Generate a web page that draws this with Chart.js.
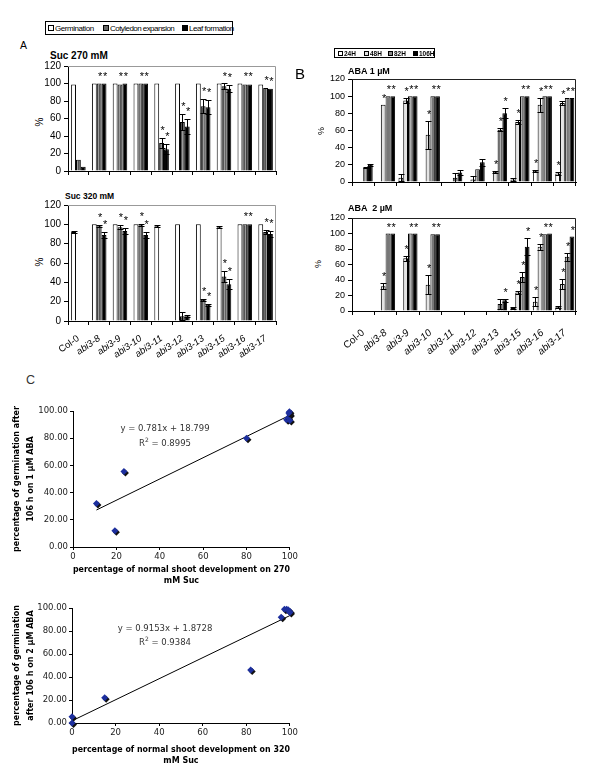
<!DOCTYPE html>
<html>
<head>
<meta charset="utf-8">
<script src="https://cdn.jsdelivr.net/npm/chart.js@4.4.1/dist/chart.umd.min.js"></script>
<style>
body { margin: 0; background: #fff; }
#page { position: relative; width: 600px; height: 778px; overflow: hidden; font-family: 'Liberation Sans', Arial, sans-serif; color: #000; }
#page canvas { position: absolute; }
.t { position: absolute; line-height: 1; white-space: pre; }
.rot { position: absolute; line-height: 1; white-space: nowrap; transform: translate(-50%, -50%) rotate(-90deg); }
.legend { position: absolute; border: 1px solid #000; box-sizing: border-box; }
.mk { position: absolute; border: 1px solid #000; box-sizing: border-box; }
.lt { position: absolute; line-height: 1; white-space: nowrap; }
.eq { position: absolute; line-height: 1; white-space: nowrap; font-family: 'DejaVu Sans', Verdana, sans-serif; font-size: 8.5px; color: #333; transform: translateX(-50%); }
</style>
</head>
<body>
<div id="page">
  <!-- panel A -->
  <div class="legend" style="left:45px;top:21px;width:188px;height:14px">
    <div class="mk" style="left:2px;top:3px;width:6px;height:6px;background:#fff"></div>
    <div class="lt" style="left:9px;top:3px;font-size:8px;letter-spacing:-0.45px">Germination</div>
    <div class="mk" style="left:57px;top:3px;width:6px;height:6px;background:#666"></div>
    <div class="lt" style="left:64px;top:3px;font-size:8px;letter-spacing:-0.55px">Cotyledon expansion</div>
    <div class="mk" style="left:136px;top:3px;width:6px;height:6px;background:#000"></div>
    <div class="lt" style="left:143px;top:3px;font-size:8px;letter-spacing:-0.45px">Leaf formation</div>
  </div>
  <div class="t" style="left:20px;top:40px;font-size:10.5px">A</div>
  <div class="t" style="left:50px;top:51px;font-size:10px;font-weight:bold">Suc 270 mM</div>
  <div class="rot" style="left:40px;top:122px;font-size:10px">%</div>
  <canvas id="a1" width="300" height="125" style="left:0;top:56px"></canvas>
  <div class="t" style="left:65px;top:192px;font-size:8.5px;font-weight:bold">Suc 320 mM</div>
  <div class="rot" style="left:40px;top:262px;font-size:10px">%</div>
  <canvas id="a2" width="300" height="165" style="left:0;top:195px"></canvas>

  <!-- panel B -->
  <div class="legend" style="left:334px;top:48px;width:101px;height:10px">
    <div class="mk" style="left:3px;top:2px;width:5px;height:5px;background:#fff"></div>
    <div class="lt" style="left:9px;top:1.5px;font-size:6.5px;font-weight:bold">24H</div>
    <div class="mk" style="left:29px;top:2px;width:5px;height:5px;background:#e4e4e4"></div>
    <div class="lt" style="left:35px;top:1.5px;font-size:6.5px;font-weight:bold">48H</div>
    <div class="mk" style="left:53px;top:2px;width:5px;height:5px;background:#888"></div>
    <div class="lt" style="left:59px;top:1.5px;font-size:6.5px;font-weight:bold">82H</div>
    <div class="mk" style="left:78px;top:2px;width:5px;height:5px;background:#000"></div>
    <div class="lt" style="left:84px;top:1.5px;font-size:6.5px;font-weight:bold">106H</div>
  </div>
  <div class="t" style="left:295px;top:66px;font-size:15px">B</div>
  <div class="t" style="left:348px;top:67px;font-size:9px;font-weight:bold">ABA 1 µM</div>
  <div class="rot" style="left:321px;top:131px;font-size:9px">%</div>
  <canvas id="b1" width="300" height="125" style="left:300px;top:70px"></canvas>
  <div class="t" style="left:348px;top:204px;font-size:9px;font-weight:bold">ABA  2 µM</div>
  <div class="rot" style="left:318px;top:264px;font-size:9px">%</div>
  <canvas id="b2" width="300" height="152" style="left:300px;top:208px"></canvas>

  <!-- panel C -->
  <div class="t" style="left:26px;top:374px;font-size:12.5px;color:#333">C</div>
  <canvas id="c1" width="300" height="188" style="left:0;top:400px"></canvas>
  <div class="eq" style="left:165px;top:424px">y = 0.781x + 18.799</div>
  <div class="eq" style="left:165px;top:437px">R<sup style="font-size:6px">2</sup> = 0.8995</div>
  <canvas id="c2" width="300" height="173" style="left:0;top:595px"></canvas>
  <div class="eq" style="left:165px;top:624px">y = 0.9153x + 1.8728</div>
  <div class="eq" style="left:165px;top:636px">R<sup style="font-size:6px">2</sup> = 0.9384</div>
</div>

<script>
// Категории и деления осей
const categories = ['Col-0', 'abi3-8', 'abi3-9', 'abi3-10', 'abi3-11', 'abi3-12', 'abi3-13', 'abi3-15', 'abi3-16', 'abi3-17'];
const barTicks = [0, 20, 40, 60, 80, 100, 120];
const scatterTicks = [0, 20, 40, 60, 80, 100];

// A: Suc 270 mM
const suc270Germ = [99, 100, 100, 100, 100, 100, 100, 100, 100, 99];
const suc270Cot = [13, 100, 99, 100, 32, 56, 74, 97, 99, 95];
const suc270Leaf = [5, 100, 100, 100, 25, 51, 73, 94, 99, 94];
const suc270CotErr = [0, 0, 0, 0, 6, 9, 8, 3, 0, 0];
const suc270LeafErr = [0, 0, 0, 0, 6, 9, 8, 4, 0, 0];
const suc270Stars = ['', '*', '*', '*', '*', '*', '*', '*', '*', '*'];

// A: Suc 320 mM
const suc320Germ = [92, 100, 100, 100, 98, 100, 100, 97, 100, 100];
const suc320Cot = [0, 98, 97, 99, 0, 5, 22, 46, 100, 92];
const suc320Leaf = [0, 89, 93, 89, 0, 5, 17, 38, 100, 90];
const suc320GermErr = [1, 0, 0, 0, 1, 0, 0, 1, 0, 0];
const suc320CotErr = [0, 1, 2, 1, 0, 4, 1, 6, 0, 2];
const suc320LeafErr = [0, 3, 3, 3, 0, 1, 1, 5, 0, 3];
const suc320Stars = ['', '*', '*', '*', '', '', '*', '*', '*', '*'];

// B: ABA 1 µM
const aba1h24 = [0, 0, 5, 0, 0, 0, 0, 3, 13, 10];
const aba1h48 = [0, 90, 95, 55, 0, 3, 12, 70, 90, 92];
const aba1h82 = [17, 100, 100, 100, 5, 15, 61, 100, 100, 98];
const aba1h106 = [20, 100, 100, 100, 11, 23, 80, 100, 100, 98];
const aba1h24Err = [0, 0, 4, 0, 0, 0, 0, 2, 1, 2];
const aba1h48Err = [0, 0, 3, 16, 0, 4, 1, 2, 8, 2];
const aba1h82Err = [1, 0, 0, 0, 6, 0, 2, 0, 0, 0];
const aba1h106Err = [1, 0, 0, 0, 3, 4, 6, 0, 0, 0];
const aba1h24Stars = ['', '', '', '', '', '', '', '', '*', '*'];
const aba1h48Stars = ['', '*', '*', '*', '', '', '*', '*', '*', '*'];
const aba1h82Stars = ['', '*', '*', '*', '', '', '*', '*', '*', '*'];
const aba1h106Stars = ['', '*', '*', '*', '', '', '*', '*', '*', '*'];

// B: ABA 2 µM
const aba2h24 = [0, 0, 0, 0, 0, 0, 0, 4, 12, 5];
const aba2h48 = [0, 32, 68, 34, 0, 0, 0, 24, 83, 35];
const aba2h82 = [0, 100, 100, 99, 0, 0, 9, 44, 99, 70];
const aba2h106 = [0, 100, 100, 99, 0, 0, 14, 83, 100, 96];
const aba2h24Err = [0, 0, 0, 0, 0, 0, 0, 1, 6, 1];
const aba2h48Err = [0, 4, 3, 12, 0, 0, 0, 2, 4, 6];
const aba2h82Err = [0, 0, 0, 0, 0, 0, 6, 6, 0, 5];
const aba2h106Err = [0, 0, 0, 0, 0, 0, 2, 11, 0, 0];
const aba2h24Stars = ['', '', '', '', '', '', '', '', '*', ''];
const aba2h48Stars = ['', '*', '*', '*', '', '', '', '*', '*', '*'];
const aba2h82Stars = ['', '*', '*', '*', '', '', '', '*', '*', '*'];
const aba2h106Stars = ['', '*', '*', '*', '', '', '*', '*', '*', '*'];

// C: корреляции
const c1X = [10.8, 19.3, 23.5, 80, 98.5, 99.2, 99.8, 100, 99.5, 100];
const c1Y = [32, 12, 55.5, 80, 93.5, 95, 99.5, 97.5, 98.5, 93];
const c1TrendX = [10.8, 100];
const c1TrendY = [27.2, 96.9];
const c2X = [0, 0, 15, 82, 96, 97.5, 98.5, 99.2, 100, 100];
const c2Y = [5.5, 0, 22, 46, 92, 99, 99, 98.5, 97, 96];
const c2TrendX = [0, 100];
const c2TrendY = [1.9, 93.4];

const FONT_BAR = "'Liberation Sans', Arial, sans-serif";
const FONT_SC = "'DejaVu Sans', Verdana, sans-serif";

// Штриховка для серых столбцов
function stripes(dark, light) {
    const c = document.createElement('canvas');
    c.width = 3; c.height = 1;
    const g = c.getContext('2d');
    g.fillStyle = dark; g.fillRect(0, 0, 2, 1);
    g.fillStyle = light; g.fillRect(2, 0, 1, 1);
    return g.createPattern(c, 'repeat');
}
const cotFill = stripes('#555', '#9a9a9a');
const h82Fill = stripes('#777', '#b0b0b0');

// Планки погрешностей и звёздочки
const barExtras = {
    id: 'barExtras',
    afterDatasetsDraw(chart, args, opts) {
        const ctx = chart.ctx;
        const y = chart.scales.y;
        chart.data.datasets.forEach((ds, i) => {
            const meta = chart.getDatasetMeta(i);
            meta.data.forEach((bar, j) => {
                const v = ds.data[j];
                const e = ds.errors ? ds.errors[j] : 0;
                ctx.save();
                ctx.strokeStyle = '#000';
                ctx.lineWidth = 1;
                if (e) {
                    const top = Math.round(y.getPixelForValue(v + e)) + 0.5;
                    const bot = Math.round(y.getPixelForValue(Math.max(0, v - e))) + 0.5;
                    const x = Math.round(bar.x) + 0.5;
                    ctx.beginPath();
                    ctx.moveTo(x, top); ctx.lineTo(x, bot);
                    ctx.moveTo(x - 3, top); ctx.lineTo(x + 3, top);
                    ctx.moveTo(x - 3, bot); ctx.lineTo(x + 3, bot);
                    ctx.stroke();
                }
                const s = ds.stars ? ds.stars[j] : '';
                if (s) {
                    ctx.font = opts.starFont;
                    ctx.fillStyle = '#000';
                    ctx.textAlign = 'center';
                    ctx.textBaseline = 'middle';
                    ctx.fillText(s, bar.x + 1, y.getPixelForValue(v + e) - opts.starGap);
                }
                ctx.restore();
            });
        });
    }
};

// Рамка области построения
const frame = {
    id: 'frame',
    beforeDatasetsDraw(chart, args, opts) {
        const { left, right, top, bottom } = chart.chartArea;
        const ctx = chart.ctx;
        ctx.save();
        ctx.strokeStyle = opts.color;
        ctx.lineWidth = 1;
        ctx.beginPath();
        ctx.moveTo(left, top + 0.5);
        ctx.lineTo(right - 0.5, top + 0.5);
        ctx.lineTo(right - 0.5, bottom);
        ctx.stroke();
        ctx.restore();
    }
};

// Тень у маркеров точек
const pointShadow = {
    id: 'pointShadow',
    beforeDatasetDraw(chart, args) {
        if (args.index !== 0) return;
        const ctx = chart.ctx;
        ctx.save();
        ctx.shadowColor = '#111';
        ctx.shadowOffsetX = 1.5;
        ctx.shadowOffsetY = 1.5;
        ctx.shadowBlur = 0;
    },
    afterDatasetDraw(chart, args) {
        if (args.index !== 0) return;
        chart.ctx.restore();
    }
};

function barChart(id, datasets, opt) {
    return new Chart(document.getElementById(id), {
        type: 'bar',
        data: { labels: categories, datasets: datasets },
        options: {
            responsive: false,
            animation: false,
            layout: { padding: { top: opt.padTop, right: opt.padRight, left: 0, bottom: 0 } },
            datasets: {
                bar: { categoryPercentage: opt.catPct, barPercentage: 1, borderWidth: 1, borderColor: '#000' }
            },
            plugins: {
                legend: { display: false },
                tooltip: { enabled: false },
                barExtras: { starGap: opt.starGap, starFont: opt.starFont },
                frame: { color: opt.frameColor }
            },
            scales: {
                x: {
                    grid: { display: true, offset: true, drawOnChartArea: false, tickLength: 4, color: '#000' },
                    border: { color: '#000' },
                    ticks: {
                        display: opt.showLabels,
                        autoSkip: false,
                        maxRotation: opt.rot,
                        minRotation: opt.rot,
                        padding: opt.labelPad,
                        color: '#000',
                        font: c => ({ family: FONT_BAR, size: opt.labelSize, style: c.index === 0 ? 'normal' : 'italic' })
                    },
                    afterFit: s => { s.height = opt.xHeight; }
                },
                y: {
                    min: 0,
                    max: 120,
                    afterBuildTicks: s => { s.ticks = barTicks.map(v => ({ value: v })); },
                    grid: { drawOnChartArea: false, tickLength: 4, color: '#000' },
                    border: { color: '#000' },
                    ticks: { padding: 3, color: '#000', font: { family: FONT_BAR, size: opt.tickSize } },
                    afterFit: s => { s.width = opt.yWidth; }
                }
            }
        },
        plugins: [frame, barExtras]
    });
}

function scatterChart(id, xs, ys, tx, ty, opt) {
    return new Chart(document.getElementById(id), {
        type: 'scatter',
        data: {
            datasets: [
                {
                    data: xs.map((x, i) => ({ x: x, y: ys[i] })),
                    pointStyle: 'rectRot',
                    pointRadius: 3.5,
                    backgroundColor: '#1d2f9e',
                    borderColor: '#1d2f9e',
                    borderWidth: 0,
                    clip: false
                },
                {
                    type: 'line',
                    data: tx.map((x, i) => ({ x: x, y: ty[i] })),
                    borderColor: '#000',
                    borderWidth: 1,
                    pointRadius: 0,
                    fill: false
                }
            ]
        },
        options: {
            responsive: false,
            animation: false,
            layout: { padding: { top: opt.padTop, right: opt.padRight, left: 0, bottom: 0 } },
            plugins: { legend: { display: false }, tooltip: { enabled: false } },
            scales: {
                x: {
                    type: 'linear',
                    min: 0,
                    max: 100,
                    afterBuildTicks: s => { s.ticks = scatterTicks.map(v => ({ value: v })); },
                    grid: { drawOnChartArea: false, tickLength: 3, color: '#000' },
                    border: { color: '#000' },
                    ticks: { padding: 2, color: '#222', font: { family: FONT_SC, size: 8.5 } },
                    title: {
                        display: true,
                        text: opt.xTitle,
                        color: '#000',
                        font: { family: FONT_SC, size: 8, weight: 'bold', lineHeight: 1.35 },
                        padding: { top: 2, bottom: 2 }
                    },
                    afterFit: s => { s.height = opt.xHeight; }
                },
                y: {
                    min: 0,
                    max: 100,
                    afterBuildTicks: s => { s.ticks = scatterTicks.map(v => ({ value: v })); },
                    grid: { drawOnChartArea: false, tickLength: 3, color: '#000' },
                    border: { color: '#000' },
                    ticks: { padding: 2, color: '#222', font: { family: FONT_SC, size: 8.5 }, callback: v => v.toFixed(2) },
                    title: {
                        display: true,
                        text: opt.yTitle,
                        color: '#000',
                        font: { family: FONT_SC, size: 8, weight: 'bold', lineHeight: 1.75 },
                        padding: { top: 10, bottom: 0 }
                    },
                    afterFit: s => { s.width = opt.yWidth; }
                }
            }
        },
        plugins: [pointShadow]
    });
}

const cfgA = { padTop: 10, padRight: 24, yWidth: 68, catPct: 0.7, starGap: 7, starFont: '11px ' + FONT_BAR, frameColor: '#999', tickSize: 10, rot: 35, labelSize: 9.5, labelPad: 8 };

barChart('a1', [
    { data: suc270Germ, backgroundColor: '#fff' },
    { data: suc270Cot, backgroundColor: cotFill, errors: suc270CotErr, stars: suc270Stars },
    { data: suc270Leaf, backgroundColor: '#000', errors: suc270LeafErr, stars: suc270Stars }
], Object.assign({}, cfgA, { showLabels: false, xHeight: 10 }));

barChart('a2', [
    { data: suc320Germ, backgroundColor: '#fff', errors: suc320GermErr },
    { data: suc320Cot, backgroundColor: cotFill, errors: suc320CotErr, stars: suc320Stars },
    { data: suc320Leaf, backgroundColor: '#000', errors: suc320LeafErr, stars: suc320Stars }
], Object.assign({}, cfgA, { showLabels: true, xHeight: 39 }));

const cfgB = { padTop: 9, padRight: 24, yWidth: 52, catPct: 0.85, starGap: 6, starFont: '11px ' + FONT_BAR, frameColor: '#222', tickSize: 9, rot: 40, labelSize: 10, labelPad: 12 };

barChart('b1', [
    { data: aba1h24, backgroundColor: '#fff', errors: aba1h24Err, stars: aba1h24Stars },
    { data: aba1h48, backgroundColor: '#e4e4e4', errors: aba1h48Err, stars: aba1h48Stars },
    { data: aba1h82, backgroundColor: h82Fill, errors: aba1h82Err, stars: aba1h82Stars },
    { data: aba1h106, backgroundColor: '#000', errors: aba1h106Err, stars: aba1h106Stars }
], Object.assign({}, cfgB, { showLabels: false, xHeight: 13 }));

barChart('b2', [
    { data: aba2h24, backgroundColor: '#fff', errors: aba2h24Err, stars: aba2h24Stars },
    { data: aba2h48, backgroundColor: '#e4e4e4', errors: aba2h48Err, stars: aba2h48Stars },
    { data: aba2h82, backgroundColor: h82Fill, errors: aba2h82Err, stars: aba2h82Stars },
    { data: aba2h106, backgroundColor: '#000', errors: aba2h106Err, stars: aba2h106Stars }
], Object.assign({}, cfgB, { padTop: 10, showLabels: true, xHeight: 49 }));

scatterChart('c1', c1X, c1Y, c1TrendX, c1TrendY, {
    padTop: 11, padRight: 9, yWidth: 73, xHeight: 41,
    xTitle: ['percentage of normal shoot development on 270', 'mM Suc'],
    yTitle: ['percentage of germination after', '106 h on 1 µM ABA']
});

scatterChart('c2', c2X, c2Y, c2TrendX, c2TrendY, {
    padTop: 13, padRight: 9, yWidth: 72, xHeight: 45,
    xTitle: ['percentage of normal shoot development on 320', 'mM Suc'],
    yTitle: ['percentage of germination', 'after 106 h on 2 µM ABA']
});
</script>
</body>
</html>
